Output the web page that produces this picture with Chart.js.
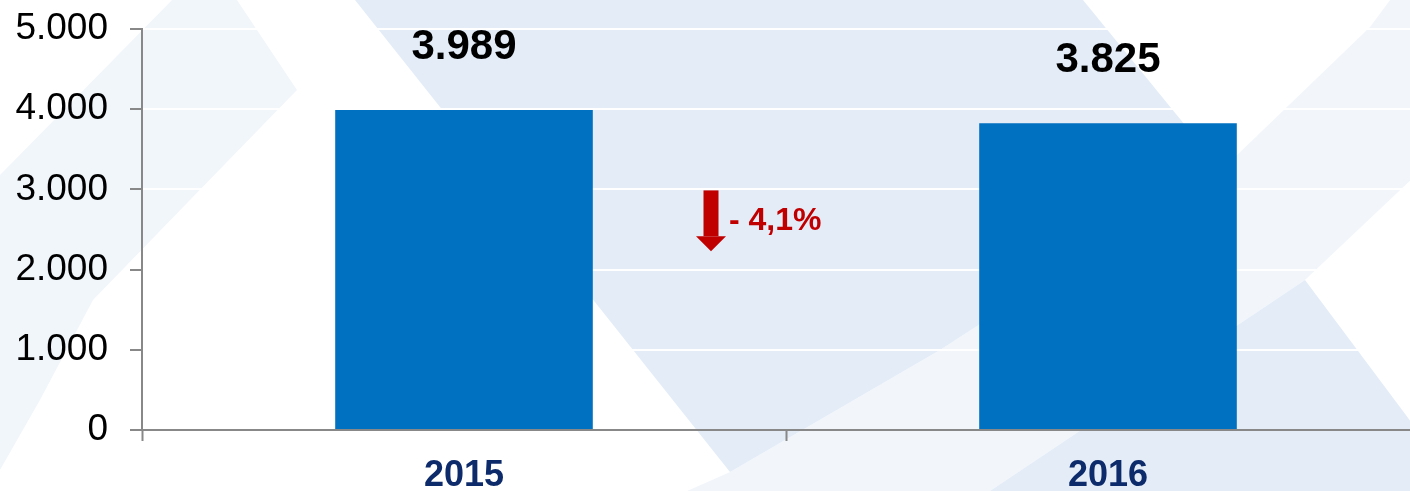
<!DOCTYPE html>
<html>
<head>
<meta charset="utf-8">
<script src="https://cdn.jsdelivr.net/npm/chart.js@4/dist/chart.umd.min.js"></script>
<style>
  html, body { margin: 0; padding: 0; background: #fff; overflow: hidden; }
  #wrap { position: relative; width: 1432px; height: 491px; }
</style>
</head>
<body>
<div id="wrap"><canvas id="chart"></canvas></div>
<script>
const years = ['2015', '2016'];
const values = [3989, 3825];
const yTicks = [0, 1000, 2000, 3000, 4000, 5000];

const FONT = "'Liberation Sans', Arial, sans-serif";
const fmt = v => v.toLocaleString('de-DE');

// decorative background shapes (page pixels)
const bgShapes = [
   { color: '#f1f6fb', pts: [[172,0],[237,0],[297,90],[190,200],[93,300],[40,400],[0,470],[0,175]] },
   { color: '#f2f6fb', pts: [[687,491],[730,472],[940,350],[1237,155],[1370,27],[1390,0],[1432,0],[1432,160],[1305,280],[990,491]] },
   { color: '#e3ecf7', pts: [[355,0],[1083,0],[1220,168],[940,350],[730,472]] },
   { color: '#e3ecf7', pts: [[1305,280],[1432,450],[1432,491],[990,491]] }
];

const background = {
   id: 'background',
   beforeDraw(chart) {
      const ctx = chart.ctx;
      ctx.save();
      bgShapes.forEach(s => {
         ctx.fillStyle = s.color;
         ctx.beginPath();
         s.pts.forEach((p, i) => i ? ctx.lineTo(p[0], p[1]) : ctx.moveTo(p[0], p[1]));
         ctx.closePath();
         ctx.fill();
      });
      ctx.restore();
   }
};

const valueLabels = {
   id: 'valueLabels',
   afterDatasetsDraw(chart) {
      const ctx = chart.ctx;
      const meta = chart.getDatasetMeta(0);
      ctx.save();
      ctx.font = 'bold 42px ' + FONT;
      ctx.fillStyle = '#000';
      ctx.textAlign = 'center';
      ctx.textBaseline = 'middle';
      meta.data.forEach((bar, i) => {
         ctx.fillText(fmt(values[i]), bar.x, bar.y - 63);
      });

      // change arrow between the two bars
      const x = chart.scales.x, y = chart.scales.y;
      const mid = (x.getPixelForValue(0) + x.getPixelForValue(1)) / 2;
      const ax = mid - 75;
      const top = y.getPixelForValue(3000) + 1;
      const tip = y.getPixelForValue(2230);
      ctx.fillStyle = '#c00000';
      ctx.fillRect(ax - 7.5, top, 15, tip - top - 15);
      ctx.beginPath();
      ctx.moveTo(ax - 15, tip - 15);
      ctx.lineTo(ax + 15, tip - 15);
      ctx.lineTo(ax, tip);
      ctx.closePath();
      ctx.fill();

      const pct = (values[1] / values[0] - 1) * 100;
      const txt = '- ' + Math.abs(pct).toFixed(1).replace('.', ',') + '%';
      ctx.font = 'bold 32px ' + FONT;
      ctx.textAlign = 'left';
      ctx.fillText(txt, ax + 18, y.getPixelForValue(2600));
      ctx.restore();
   }
};

new Chart(document.getElementById('chart'), {
   type: 'bar',
   data: {
      labels: years,
      datasets: [{
         data: values,
         backgroundColor: '#0070c0',
         barPercentage: 0.4,
         categoryPercentage: 1
      }]
   },
   options: {
      responsive: true,
      maintainAspectRatio: false,
      animation: false,
      layout: { padding: { left: 0, right: 2, top: 29, bottom: 0 } },
      plugins: {
         legend: { display: false },
         tooltip: { enabled: false }
      },
      scales: {
         x: {
            afterFit: axis => {
               axis.height = 61;
               axis.paddingLeft = axis.paddingRight = 0;
            },
            grid: {
               drawOnChartArea: false,
               tickLength: 11,
               tickColor: '#888',
               tickWidth: 2
            },
            border: { color: '#888', width: 2 },
            ticks: {
               color: '#0d2b6b',
               padding: 17,
               font: { family: FONT, size: 36, weight: 'bold', lineHeight: 1.0 }
            }
         },
         y: {
            min: 0,
            max: 5000,
            afterFit: axis => {
               axis.width = 142;
               axis.paddingTop = axis.paddingBottom = 0;
            },
            afterBuildTicks: axis => { axis.ticks = yTicks.map(v => ({ value: v })); },
            grid: {
               color: '#ffffff',
               lineWidth: 2,
               tickLength: 12,
               tickColor: '#888',
               tickWidth: 2
            },
            border: { color: '#888', width: 2 },
            ticks: {
               color: '#000',
               padding: 22,
               font: { family: FONT, size: 37 },
               callback: v => fmt(v)
            }
         }
      }
   },
   plugins: [background, valueLabels]
});
</script>
</body>
</html>
